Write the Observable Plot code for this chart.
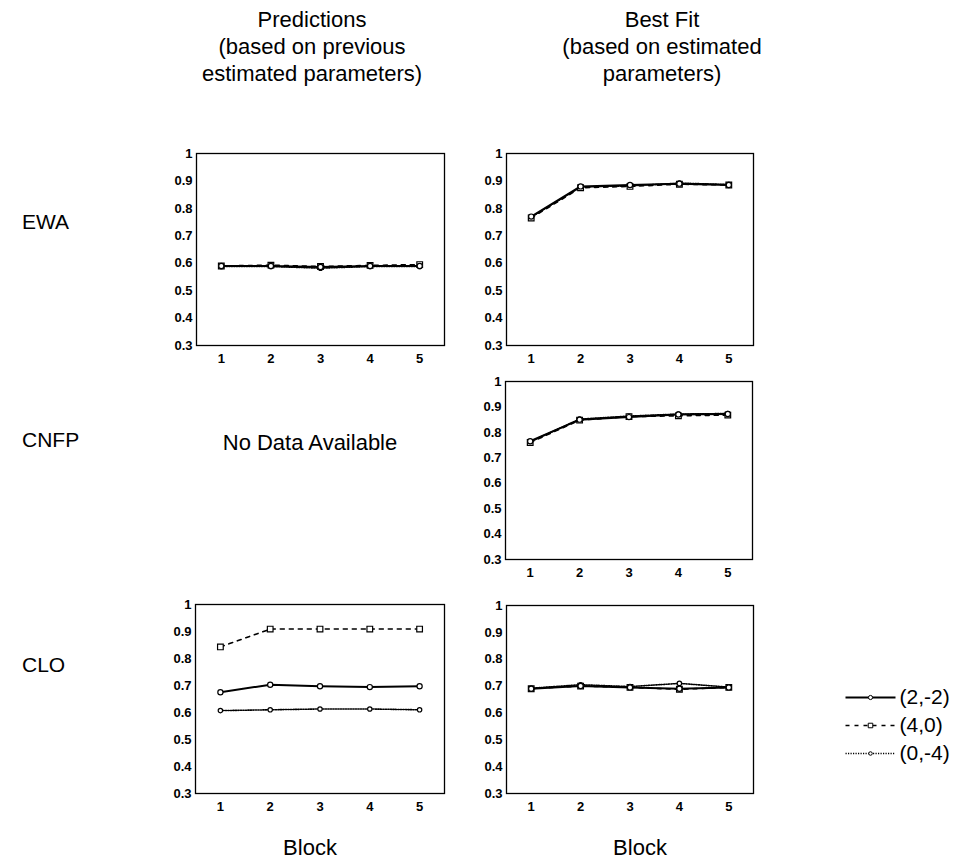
<!DOCTYPE html>
<html>
<head>
<meta charset="utf-8">
<script src="https://cdn.jsdelivr.net/npm/d3@7"></script>
<script src="https://cdn.jsdelivr.net/npm/@observablehq/plot@0.6"></script>
<style>
  body { margin: 0; background: #fff; }
  #wrap { position: relative; width: 965px; height: 863px; font-family: "Liberation Sans", Arial, sans-serif; color: #000; overflow: hidden; }
  .t { position: absolute; transform: translate(-50%, -50%); white-space: nowrap; text-align: center; font-size: 22px; line-height: 27px; }
  .r { position: absolute; transform: translate(0, -50%); font-size: 21px; }
  .p { position: absolute; }
</style>
</head>
<body>
<div id="wrap"></div>
<script>
// ---------- data ----------
const blocks = [1, 2, 3, 4, 5];
const seriesNames = ["(2,-2)", "(4,0)", "(0,-4)"];
const yTicks = [0.3, 0.4, 0.5, 0.6, 0.7, 0.8, 0.9, 1];

// EWA – predictions
const ewaPred_22 = [0.590, 0.590, 0.586, 0.590, 0.590];
const ewaPred_40 = [0.590, 0.593, 0.588, 0.592, 0.595];
const ewaPred_04 = [0.588, 0.588, 0.582, 0.588, 0.588];
// EWA – best fit
const ewaFit_22 = [0.770, 0.880, 0.885, 0.890, 0.885];
const ewaFit_40 = [0.765, 0.875, 0.880, 0.888, 0.885];
const ewaFit_04 = [0.768, 0.878, 0.882, 0.892, 0.887];
// CNFP – best fit
const cnfpFit_22 = [0.765, 0.850, 0.860, 0.870, 0.872];
const cnfpFit_40 = [0.760, 0.848, 0.862, 0.865, 0.868];
const cnfpFit_04 = [0.763, 0.852, 0.864, 0.872, 0.874];
// CLO – predictions
const cloPred_22 = [0.675, 0.703, 0.697, 0.694, 0.697];
const cloPred_40 = [0.843, 0.909, 0.909, 0.909, 0.909];
const cloPred_04 = [0.607, 0.610, 0.613, 0.613, 0.610];
// CLO – best fit
const cloFit_22 = [0.690, 0.700, 0.695, 0.690, 0.695];
const cloFit_40 = [0.690, 0.700, 0.695, 0.688, 0.695];
const cloFit_04 = [0.692, 0.705, 0.698, 0.710, 0.696];

// ---------- helpers ----------
const styles = {
  "(2,-2)": {dash: null, width: 2, symbol: "circle", r: 2.6},
  "(4,0)": {dash: "4,5", width: 1.6, symbol: "square", r: 3.2},
  "(0,-4)": {dash: "1.2,1.3", width: 1.6, symbol: "circle", r: 2.2}
};

function rows(a, b, c) {
  const out = [];
  [a, b, c].forEach((vals, i) => vals.forEach((v, j) => out.push({block: blocks[j], value: v, series: seriesNames[i]})));
  return out;
}

const wrap = document.getElementById("wrap");
const font = "'Liberation Sans', Arial, sans-serif";

function panel(data, left, top, w, h) {
  const mL = 46, mR = 4, mT = 6, mB = 24;
  const marks = [Plot.frame({stroke: "#000", strokeWidth: 1.3})];
  [...seriesNames].reverse().forEach(name => {
    const st = styles[name];
    const d = data.filter(r => r.series === name);
    marks.push(Plot.line(d, {x: "block", y: "value", stroke: "#000", strokeWidth: st.width, strokeDasharray: st.dash}));
    marks.push(Plot.dot(d, {x: "block", y: "value", symbol: st.symbol, r: st.r, fill: "#fff", stroke: "#000", strokeWidth: 1.2}));
  });
  marks.push(Plot.axisX({ticks: blocks, tickSize: 0, tickPadding: 8, tickFormat: d => String(d), label: null}));
  marks.push(Plot.axisY({ticks: yTicks, tickSize: 0, tickPadding: 4, tickFormat: d => d === 1 ? "1" : d.toFixed(1), label: null}));
  const svg = Plot.plot({
    width: w + mL + mR, height: h + mT + mB,
    marginLeft: mL, marginRight: mR, marginTop: mT, marginBottom: mB,
    x: {domain: [0.5, 5.5]},
    y: {domain: [0.3, 1]},
    style: {fontFamily: font, fontSize: "13px", fontWeight: "bold", background: "transparent", color: "#000"},
    marks
  });
  svg.classList.add("p");
  svg.style.left = (left - mL) + "px";
  svg.style.top = (top - mT) + "px";
  wrap.appendChild(svg);
}

function label(cls, text, x, y, extra) {
  const d = document.createElement("div");
  d.className = cls;
  d.innerHTML = text;
  d.style.left = x + "px";
  d.style.top = y + "px";
  if (extra) Object.assign(d.style, extra);
  wrap.appendChild(d);
}

// ---------- titles ----------
label("t", "Predictions<br>(based on previous<br>estimated parameters)", 312, 46);
label("t", "Best Fit<br>(based on estimated<br>parameters)", 662, 46);

// ---------- row labels ----------
label("r", "EWA", 22, 222);
label("r", "CNFP", 22, 440);
label("r", "CLO", 22, 665);
label("t", "No Data Available", 310, 442);

// ---------- panels ----------
panel(rows(ewaPred_22, ewaPred_40, ewaPred_04), 196, 153, 248, 192);
panel(rows(ewaFit_22, ewaFit_40, ewaFit_04), 506, 153, 247, 192);
panel(rows(cnfpFit_22, cnfpFit_40, cnfpFit_04), 505, 381, 247, 178);
panel(rows(cloPred_22, cloPred_40, cloPred_04), 195, 604, 249, 189);
panel(rows(cloFit_22, cloFit_40, cloFit_04), 506, 605, 247, 188);

// ---------- x labels ----------
label("t", "Block", 310, 847);
label("t", "Block", 640, 847);

// ---------- legend ----------
(function () {
  const marks = [];
  seriesNames.forEach(name => {
    const st = styles[name];
    marks.push(Plot.link([name], {x1: 0, x2: 1, y1: d => d, y2: d => d, stroke: "#000", strokeWidth: st.width, strokeDasharray: st.dash}));
    marks.push(Plot.dot([name], {x: 0.5, y: d => d, symbol: st.symbol, r: st.r * 0.8, fill: "#fff", stroke: "#000", strokeWidth: 1}));
  });
  marks.push(Plot.text(seriesNames, {x: 1, y: d => d, dx: 4, textAnchor: "start", fontSize: 21, fill: "#000"}));
  const svg = Plot.plot({
    width: 125, height: 84, margin: 0,
    x: {domain: [0, 1], range: [5, 55], axis: null},
    y: {type: "point", domain: seriesNames, range: [12, 68], padding: 0, axis: null},
    style: {fontFamily: font, background: "transparent"},
    marks
  });
  svg.classList.add("p");
  svg.style.left = "840px";
  svg.style.top = "685px";
  wrap.appendChild(svg);
})();
</script>
</body>
</html>
